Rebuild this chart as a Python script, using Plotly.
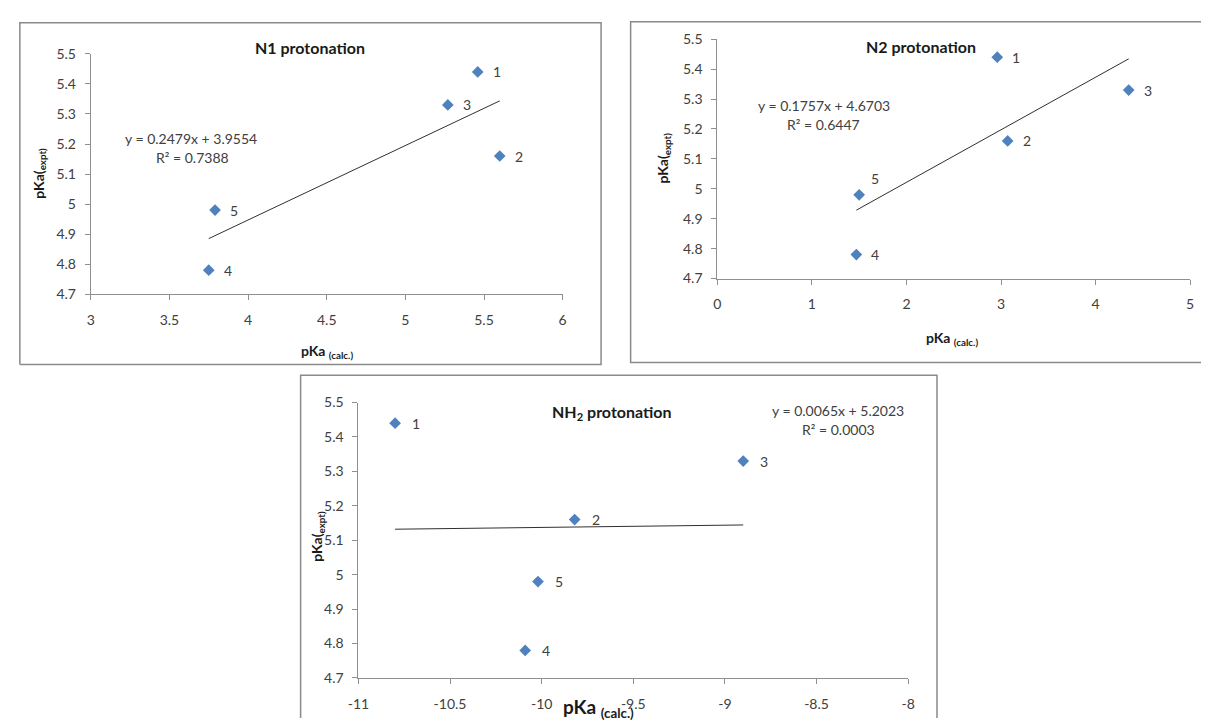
import plotly.graph_objects as go

W, H = 1208, 726

# ---------------- data ----------------
labels = ["1", "2", "3", "4", "5"]
pka_expt = [5.44, 5.16, 5.33, 4.78, 4.98]
pka_calc_n1 = [5.46, 5.60, 5.27, 3.75, 3.79]
pka_calc_n2 = [2.96, 3.07, 4.35, 1.47, 1.50]
pka_calc_nh2 = [-10.80, -9.82, -8.90, -10.09, -10.02]

panel_titles = ["N1 protonation", "N2 protonation", "NH<sub>2</sub> protonation"]
slopes = [0.2479, 0.1757, 0.0065]
intercepts = [3.9554, 4.6703, 5.2023]
r2_values = [0.7388, 0.6447, 0.0003]

x_ticks_n1 = [3, 3.5, 4, 4.5, 5, 5.5, 6]
x_ticks_n2 = [0, 1, 2, 3, 4, 5]
x_ticks_nh2 = [-11, -10.5, -10, -9.5, -9, -8.5, -8]
x_ticktext_nh2 = ["-11", "-10.5", "-10", "-9.5", "-9", "-8.5", "-8"]
y_ticks = [4.7, 4.8, 4.9, 5.0, 5.1, 5.2, 5.3, 5.4, 5.5]
y_ticktext = ["4.7", "4.8", "4.9", "5", "5.1", "5.2", "5.3", "5.4", "5.5"]

# ---------------- layout helpers (pixel -> paper) ----------------
def px(x):
    return x / W

def py(y):
    return 1 - y / H

FONT = "Lato"
TXT = "#404040"
AX = "#8f8f8f"
MARK = "#4F81BD"

panels = [
    dict(x=pka_calc_n1, xt=x_ticks_n1, xtt=[str(v) for v in x_ticks_n1], xr=[3, 6],
         xdom=[81, 560], ydom=[292, 46],
         border=[(9, 364), (9, 14), (599, 14), (599, 364), (9, 364)],
         title_xy=(304, 39), eq_xy=(183, 133), r2_xy=(184, 152),
         ytitle_xy=(28, 168), xtitle_xy=(321, 351), lshift=19,
         lbl_offsets={}),
    dict(x=pka_calc_n2, xt=x_ticks_n2, xtt=[str(v) for v in x_ticks_n2], xr=[0, 5],
         xdom=[717, 1197], ydom=[276, 31],
         border=[(1208, 13), (629, 13), (629, 362), (1208, 362)],
         title_xy=(924, 38), eq_xy=(825, 99), r2_xy=(825, 118),
         ytitle_xy=(662, 153), xtitle_xy=(955, 337), lshift=19,
         lbl_offsets={4: (16, 16)}),
    dict(x=pka_calc_nh2, xt=x_ticks_nh2, xtt=x_ticktext_nh2, xr=[-11, -8],
         xdom=[352.7, 910.7], ydom=[685, 403],
         border=[(294, 726), (294, 375), (940, 375), (940, 726)],
         title_xy=(610, 413), eq_xy=(840, 411), r2_xy=(840, 431),
         ytitle_xy=(311, 540), xtitle_xy=(596, 716), lshift=21,
         lbl_offsets={}),
]

fig = go.Figure()
annotations = []
shapes = []
layout_axes = {}

for i, p in enumerate(panels):
    n = "" if i == 0 else str(i + 1)
    xa, ya = "x" + n, "y" + n
    # scatter points
    fig.add_trace(go.Scatter(
        x=p["x"], y=pka_expt, mode="markers", xaxis=xa, yaxis=ya,
        marker=dict(symbol="diamond", size=9, color=MARK, line=dict(width=0)),
        showlegend=False, hoverinfo="skip"))
    # linear trendline from the stated fit
    xmin, xmax = min(p["x"]), max(p["x"])
    fig.add_trace(go.Scatter(
        x=[xmin, xmax],
        y=[slopes[i] * xmin + intercepts[i], slopes[i] * xmax + intercepts[i]],
        mode="lines", xaxis=xa, yaxis=ya,
        line=dict(color="#303030", width=1),
        showlegend=False, hoverinfo="skip"))
    # point labels
    for k, (xv, yv, lab) in enumerate(zip(p["x"], pka_expt, labels)):
        dx, dy = p["lbl_offsets"].get(k, (p["lshift"], 0))
        annotations.append(dict(
            x=xv, y=yv, xref=xa, yref=ya, text=lab, showarrow=False,
            xshift=dx, yshift=dy, xanchor="center", yanchor="middle",
            font=dict(family=FONT, size=14, color=TXT)))
    # axes
    layout_axes["xaxis" + n] = dict(
        domain=[px(p["xdom"][0]), px(p["xdom"][1])], range=p["xr"],
        anchor=ya, tickmode="array", tickvals=p["xt"], ticktext=p["xtt"],
        showgrid=False, zeroline=False, showline=True, linecolor=AX, linewidth=1,
        ticks="outside", ticklen=5, tickcolor=AX, tickwidth=1,
        ticklabelstandoff=8,
        tickfont=dict(family=FONT, size=14, color=TXT), fixedrange=True)
    layout_axes["yaxis" + n] = dict(
        domain=[py(p["ydom"][0]), py(p["ydom"][1])], range=[4.7, 5.5],
        anchor=xa, tickmode="array", tickvals=y_ticks, ticktext=y_ticktext,
        showgrid=False, zeroline=False, showline=True, linecolor=AX, linewidth=1,
        ticks="outside", ticklen=5, tickcolor=AX, tickwidth=1,
        ticklabelstandoff=6,
        tickfont=dict(family=FONT, size=14, color=TXT), fixedrange=True)
    # panel border (open sides where the reference is cut by the canvas edge)
    path = "M " + " L ".join("%.6f,%.6f" % (px(a), py(b)) for a, b in p["border"])
    shapes.append(dict(type="path", xref="paper", yref="paper", path=path,
                       line=dict(color="#8a8a8a", width=1.5), layer="below"))
    # titles and texts
    annotations.append(dict(
        x=px(p["title_xy"][0]), y=py(p["title_xy"][1]), xref="paper", yref="paper",
        text="<b>" + panel_titles[i] + "</b>", showarrow=False,
        xanchor="center", yanchor="middle",
        font=dict(family=FONT, size=16, color="#1a1a1a")))
    annotations.append(dict(
        x=px(p["eq_xy"][0]), y=py(p["eq_xy"][1]), xref="paper", yref="paper",
        text="y = %.4fx + %.4f" % (slopes[i], intercepts[i]), showarrow=False,
        xanchor="center", yanchor="middle",
        font=dict(family=FONT, size=14, color=TXT)))
    annotations.append(dict(
        x=px(p["r2_xy"][0]), y=py(p["r2_xy"][1]), xref="paper", yref="paper",
        text="R² = %.4f" % r2_values[i], showarrow=False,
        xanchor="center", yanchor="middle",
        font=dict(family=FONT, size=14, color=TXT)))
    annotations.append(dict(
        x=px(p["ytitle_xy"][0]), y=py(p["ytitle_xy"][1]), xref="paper", yref="paper",
        text="<b>pKa(<sub>expt)</sub></b>", showarrow=False, textangle=-90,
        xanchor="center", yanchor="middle",
        font=dict(family=FONT, size=14, color="#1a1a1a")))
    annotations.append(dict(
        x=px(p["xtitle_xy"][0]), y=py(p["xtitle_xy"][1]), xref="paper", yref="paper",
        text="<b>pKa <sub>(calc.)</sub></b>", showarrow=False,
        xanchor="center", yanchor="middle",
        font=dict(family=FONT, size=14 if i < 2 else 19, color="#1a1a1a")))

fig.update_layout(
    width=W, height=H, autosize=False,
    margin=dict(l=0, r=0, t=0, b=0),
    paper_bgcolor="white", plot_bgcolor="white",
    showlegend=False,
    annotations=annotations, shapes=shapes,
    **layout_axes)

fig.write_html(
    "out.html", config={"displayModeBar": False},
    post_script=(
        "document.documentElement.style.margin='0';"
        "document.documentElement.style.padding='0';"
        "document.body.style.margin='0';document.body.style.padding='0';"
        "document.body.style.overflow='hidden';"
        "var gd=document.getElementById('{plot_id}');"
        "gd.style.position='fixed';gd.style.left='0px';gd.style.top='0px';"))
